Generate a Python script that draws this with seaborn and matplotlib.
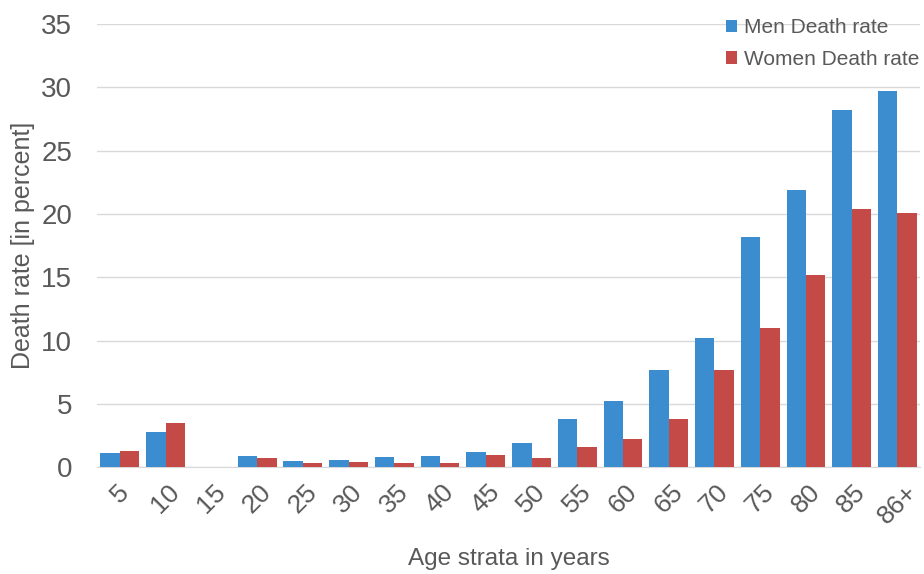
import pandas as pd
import matplotlib
matplotlib.use('Agg')
import matplotlib.pyplot as plt
import seaborn as sns

# Daten
ages = ['5', '10', '15', '20', '25', '30', '35', '40', '45', '50',
        '55', '60', '65', '70', '75', '80', '85', '86+']
men_rate = [1.1, 2.8, 0.0, 0.9, 0.5, 0.55, 0.8, 0.9, 1.2, 1.9,
            3.8, 5.2, 7.7, 10.2, 18.2, 21.9, 28.2, 29.7]
women_rate = [1.3, 3.5, 0.0, 0.7, 0.35, 0.45, 0.3, 0.3, 1.0, 0.7,
              1.6, 2.2, 3.8, 7.7, 11.0, 15.2, 20.4, 20.1]

df = pd.DataFrame({
    'age': ages * 2,
    'rate': men_rate + women_rate,
    'group': ['Men Death rate'] * len(ages) + ['Women Death rate'] * len(ages),
})

sns.set_style('white')
plt.rcParams['font.family'] = ['Liberation Sans', 'DejaVu Sans']

fig = plt.figure(figsize=(9.24, 5.74), dpi=100)
ax = fig.add_axes([0.105, 0.186, 0.891, 0.772])

sns.barplot(data=df, x='age', y='rate', hue='group', order=ages,
            palette=['#3c8dd0', '#c34a47'], width=0.85, gap=0,
            saturation=1, linewidth=0, edgecolor='none', ax=ax, zorder=3)

ax.set_ylim(0, 35)
ax.set_xlim(-0.5, len(ages) - 0.5)
ax.set_yticks(range(0, 36, 5))
ax.yaxis.grid(True, color='#d9d9d9', linewidth=1, zorder=0)
ax.set_axisbelow(True)
for s in ['top', 'right', 'left']:
    ax.spines[s].set_visible(False)
ax.spines['bottom'].set_color('#d9d9d9')

ax.tick_params(axis='y', labelsize=20, colors='#595959', length=0, pad=18)
ax.tick_params(axis='x', labelsize=19, colors='#595959', length=0, pad=9)
plt.setp(ax.get_xticklabels(), rotation=45, ha='center')

ax.set_xlabel('Age strata in years', fontsize=17.5, color='#595959', labelpad=14)
ax.set_ylabel('Death rate [in percent]', fontsize=18, color='#595959', labelpad=4)

leg = ax.legend(loc='upper right', bbox_to_anchor=(1.022, 1.055), frameon=False,
                fontsize=15, handlelength=0.55, handleheight=0.55,
                handletextpad=0.35, labelspacing=0.6)
for t in leg.get_texts():
    t.set_color('#595959')

fig.savefig('out.png', dpi=100)
